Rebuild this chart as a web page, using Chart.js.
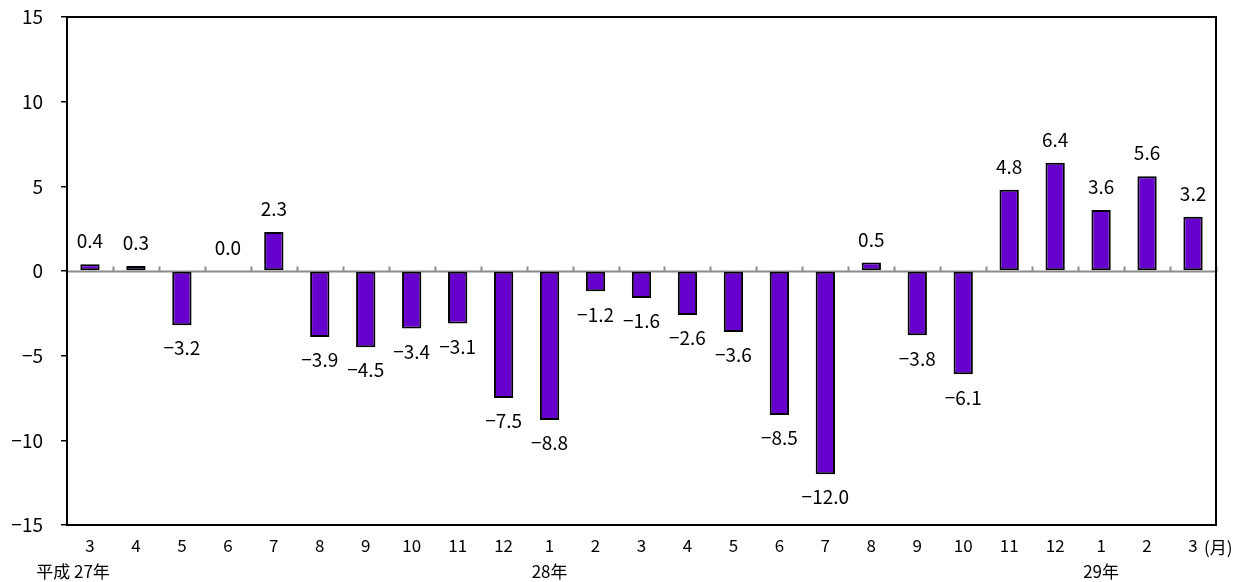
<!DOCTYPE html>
<html>
<head>
<meta charset="utf-8">
<script src="https://cdn.jsdelivr.net/npm/chart.js@4/dist/chart.umd.min.js"></script>
<style>
  html, body { margin: 0; padding: 0; background: #fff; }
  #wrap { width: 1250px; height: 582px; }
</style>
</head>
<body>
<div id="wrap"><canvas id="c" width="1250" height="582"></canvas></div>
<script>
// Month labels (second line = year marker)
const months = [
  ['3', '平成 27年\u3000\u3000'], '4', '5', '6', '7', '8', '9', '10', '11', '12',
  ['1', '28年'], '2', '3', '4', '5', '6', '7', '8', '9', '10', '11', '12',
  ['1', '29年'], '2', '3'
];
// Year-on-year change (%)
const changes = [
  0.4, 0.3, -3.2, 0.0, 2.3, -3.9, -4.5, -3.4, -3.1, -7.5,
  -8.8, -1.2, -1.6, -2.6, -3.6, -8.5, -12.0, 0.5, -3.8, -6.1,
  4.8, 6.4, 3.6, 5.6, 3.2
];
const yTicks = [-15, -10, -5, 0, 5, 10, 15];
const unitLabel = '(月)';

const FONT = "'Noto Sans CJK JP', 'DejaVu Sans', sans-serif";
const fmtMinus = s => String(s).replace('-', '\u2212');

// Frame, gray zero line with boundary ticks, value labels, unit label
const decor = {
  id: 'decor',
  beforeDatasetsDraw(chart) {
    const { ctx, chartArea: a, scales: { y } } = chart;
    const y0 = Math.round(y.getPixelForValue(0)) + 0.5;
    ctx.save();
    ctx.strokeStyle = '#8c8c8c';
    ctx.lineWidth = 2;
    ctx.beginPath();
    ctx.moveTo(a.left, y0);
    ctx.lineTo(a.right, y0);
    const step = (a.right - a.left) / months.length;
    for (let i = 1; i <= months.length; i++) {
      const px = Math.round(a.left + step * i) + 0.5;
      ctx.moveTo(px, y0);
      ctx.lineTo(px, y0 - 5);
    }
    ctx.stroke();
    ctx.restore();
  },
  afterDatasetsDraw(chart) {
    const { ctx, chartArea: a } = chart;
    ctx.save();
    ctx.strokeStyle = '#000';
    ctx.lineWidth = 2;
    ctx.strokeRect(a.left, a.top, a.right - a.left, a.bottom - a.top);

    ctx.fillStyle = '#000';
    ctx.font = '19px ' + FONT;
    ctx.textAlign = 'center';
    ctx.textBaseline = 'middle';
    const meta = chart.getDatasetMeta(0);
    meta.data.forEach((bar, i) => {
      const v = changes[i];
      const txt = fmtMinus(v.toFixed(1));
      const ty = v >= 0 ? bar.y - 23 : bar.y + 23;
      ctx.fillText(txt, bar.x, ty);
    });

    ctx.font = '17px ' + FONT;
    ctx.textAlign = 'left';
    ctx.fillText(unitLabel, a.right - 12, 548);
    ctx.restore();
  }
};

new Chart(document.getElementById('c'), {
  type: 'bar',
  data: {
    labels: months,
    datasets: [{
      data: changes,
      backgroundColor: '#6600cc',
      borderColor: '#000',
      borderWidth: 2,
      borderSkipped: false,
      barPercentage: 0.42,
      categoryPercentage: 1
    }]
  },
  options: {
    responsive: false,
    animation: false,
    layout: { padding: { top: 17, right: 34, left: 0, bottom: 0 } },
    plugins: { legend: { display: false }, tooltip: { enabled: false } },
    scales: {
      x: {
        grid: { display: false, drawTicks: false },
        border: { display: false },
        ticks: {
          color: '#000',
          font: { family: FONT, size: 17, lineHeight: 1.5 },
          maxRotation: 0,
          autoSkip: false,
          padding: 8
        },
        afterFit(s) { s.height = 57; }
      },
      y: {
        min: -15, max: 15,
        afterBuildTicks(s) { s.ticks = yTicks.map(v => ({ value: v })); },
        grid: { drawOnChartArea: false, drawTicks: true, tickLength: 6, color: '#000', lineWidth: 1.5 },
        border: { display: false },
        ticks: {
          color: '#000',
          font: { family: FONT, size: 19 },
          padding: 18,
          callback: v => fmtMinus(v)
        },
        afterFit(s) {
          s.width = 67;
          s.paddingTop = 0;
          s.paddingBottom = 0;
        }
      }
    }
  },
  plugins: [decor]
});
</script>
</body>
</html>
